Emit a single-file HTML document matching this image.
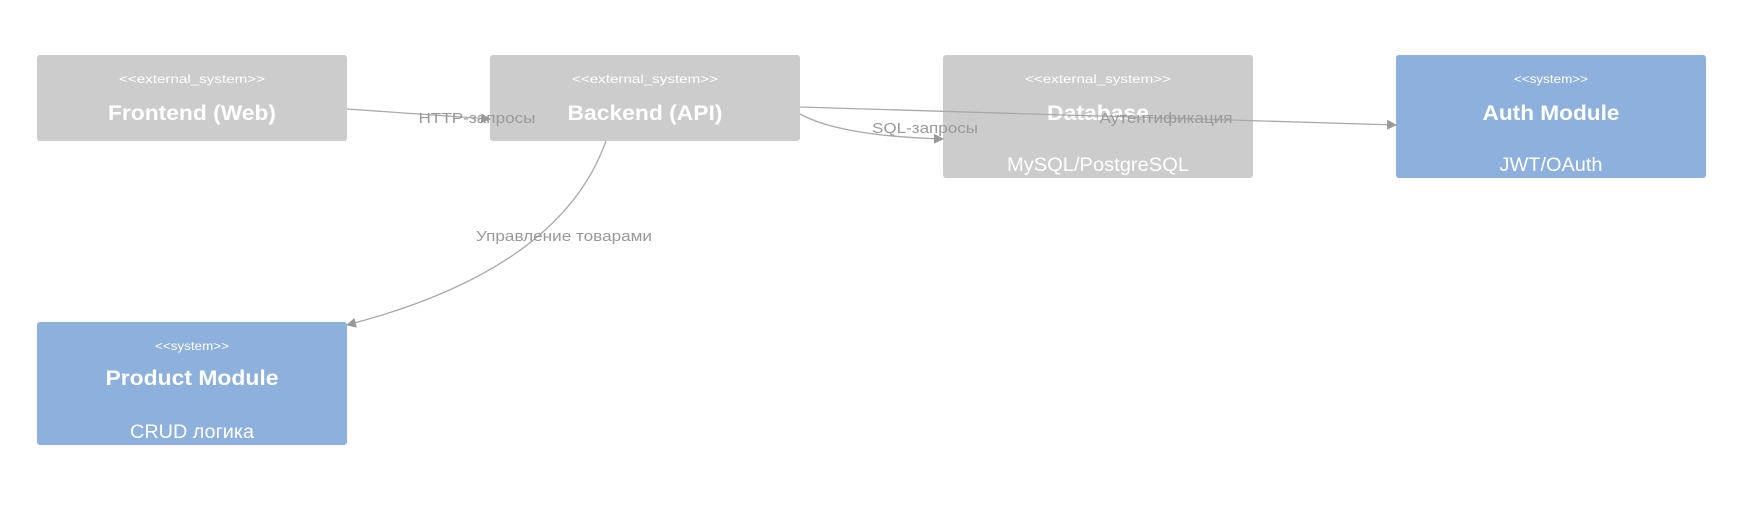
<!DOCTYPE html>
<html><head><meta charset="utf-8"><style>
html,body{margin:0;padding:0;background:#fff;}
svg{display:block;font-family:"Liberation Sans","DejaVu Sans",sans-serif;}
</style></head><body>
<svg width="1738" height="522" viewBox="0 0 1738 522" xmlns="http://www.w3.org/2000/svg">
<defs>
<marker id="a" markerWidth="10" markerHeight="10" refX="9" refY="5" orient="auto" markerUnits="userSpaceOnUse">
<path d="M0,0 L10,5 L0,10 z" fill="#999"/>
</marker>
</defs>
<g fill="#cccccc">
<rect x="37" y="55" width="310" height="86" rx="3"/>
<rect x="490" y="55" width="310" height="86" rx="3"/>
<rect x="943" y="55" width="310" height="123" rx="3"/>
</g>
<g fill="#8eb0dc">
<rect x="1396" y="55" width="310" height="123" rx="3"/>
<rect x="37" y="322" width="310" height="123" rx="3"/>
</g>
<g fill="#fff" text-anchor="middle" lengthAdjust="spacingAndGlyphs">
<text x="192" y="83" font-size="12" textLength="146" lengthAdjust="spacingAndGlyphs">&lt;&lt;external_system&gt;&gt;</text>
<text x="192" y="120" font-size="21" font-weight="bold" textLength="168" lengthAdjust="spacingAndGlyphs">Frontend (Web)</text>
<text x="645" y="83" font-size="12" textLength="146" lengthAdjust="spacingAndGlyphs">&lt;&lt;external_system&gt;&gt;</text>
<text x="645" y="120" font-size="21" font-weight="bold" textLength="155" lengthAdjust="spacingAndGlyphs">Backend (API)</text>
<text x="1098" y="83" font-size="12" textLength="146" lengthAdjust="spacingAndGlyphs">&lt;&lt;external_system&gt;&gt;</text>
<text x="1098" y="120" font-size="21" font-weight="bold" textLength="102" lengthAdjust="spacingAndGlyphs">Database</text>
<text x="1098" y="171" font-size="19" textLength="182" lengthAdjust="spacingAndGlyphs">MySQL/PostgreSQL</text>
<text x="1551" y="83" font-size="12" textLength="74" lengthAdjust="spacingAndGlyphs">&lt;&lt;system&gt;&gt;</text>
<text x="1551" y="120" font-size="21" font-weight="bold" textLength="137" lengthAdjust="spacingAndGlyphs">Auth Module</text>
<text x="1551" y="171" font-size="19" textLength="103" lengthAdjust="spacingAndGlyphs">JWT/OAuth</text>
<text x="192" y="350" font-size="12" textLength="74" lengthAdjust="spacingAndGlyphs">&lt;&lt;system&gt;&gt;</text>
<text x="192" y="385" font-size="21" font-weight="bold" textLength="173" lengthAdjust="spacingAndGlyphs">Product Module</text>
<text x="192" y="438" font-size="19" textLength="124" lengthAdjust="spacingAndGlyphs">CRUD логика</text>
</g>
<g fill="none" stroke="#aaa" stroke-width="1.3">
<path d="M347,109 L490,119" marker-end="url(#a)"/>
<path d="M800,107 L1396,125" marker-end="url(#a)"/>
<path d="M800,114 Q840,136 943,139" marker-end="url(#a)"/>
<path d="M606,141 Q560,270 347,325" marker-end="url(#a)"/>
</g>
<g fill="#999" font-size="15" text-anchor="middle">
<text x="477" y="123" textLength="117" lengthAdjust="spacingAndGlyphs">HTTP-запросы</text>
<text x="925" y="133" textLength="106" lengthAdjust="spacingAndGlyphs">SQL-запросы</text>
<text x="1166" y="123" textLength="133" lengthAdjust="spacingAndGlyphs">Аутентификация</text>
<text x="564" y="241" textLength="176" lengthAdjust="spacingAndGlyphs">Управление товарами</text>
</g>
</svg>
</body></html>
